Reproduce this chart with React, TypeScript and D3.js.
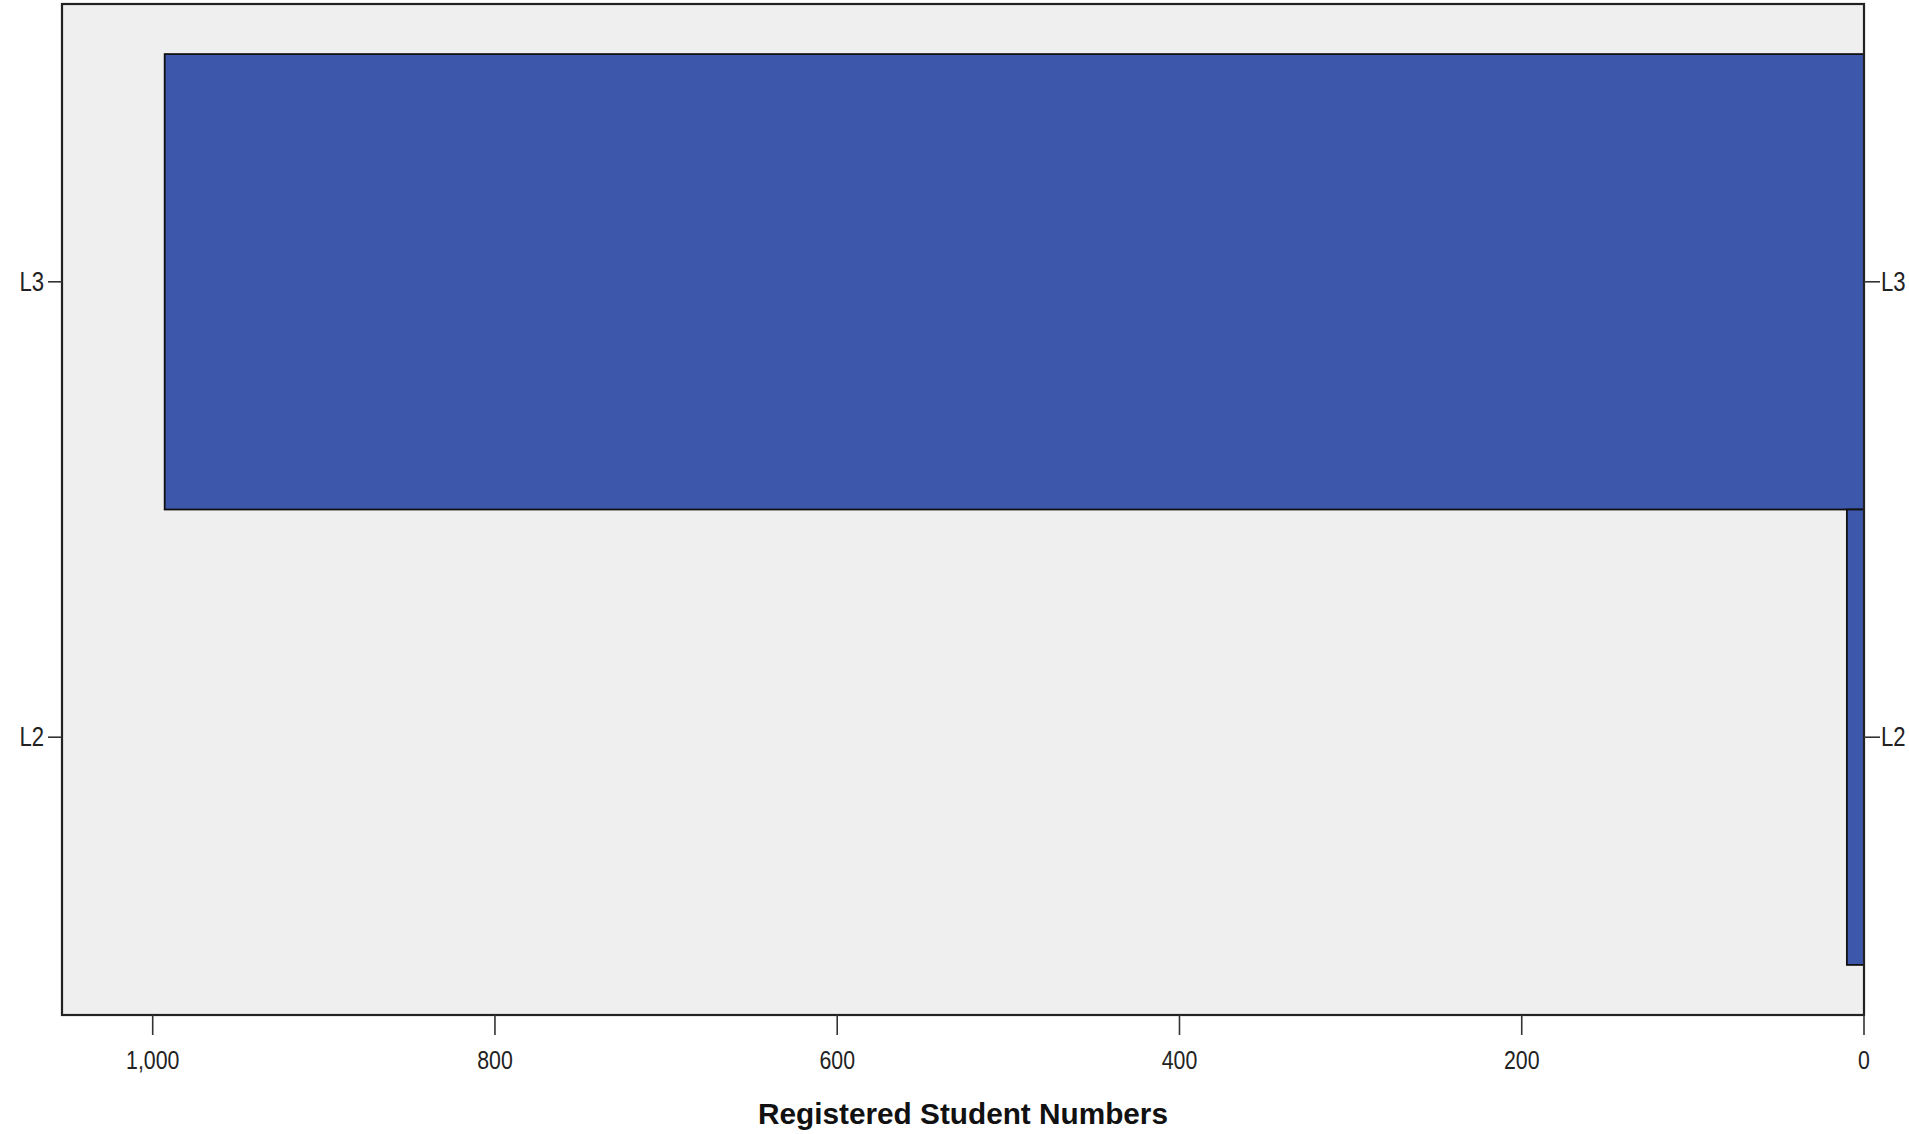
import React from "react";
import * as d3 from "d3";

const categories = ["L3", "L2"];
const values = [993, 10];
const xTicks = [1000, 800, 600, 400, 200, 0];
const xTitle = "Registered Student Numbers";

const W = 1909;
const H = 1134;
const plot = { left: 62, right: 1864, top: 4, bottom: 1015 };
const FONT = "'Liberation Sans', Arial, sans-serif";
const SX = 0.82;

function NarrowText(props: {
  x: number;
  y: number;
  anchor: "start" | "middle" | "end";
  size: number;
  bold?: boolean;
  children: React.ReactNode;
}) {
  return (
    <text
      transform={`translate(${props.x},${props.y}) scale(${SX},1)`}
      textAnchor={props.anchor}
      dominantBaseline="central"
      fontFamily={FONT}
      fontWeight={props.bold ? "bold" : "normal"}
      fontSize={props.size}
      fill="#222"
    >
      {props.children}
    </text>
  );
}

export default function App() {
  const x = d3.scaleLinear().domain([0, 1053]).range([plot.right, plot.left]);
  const y = d3
    .scaleBand<string>()
    .domain(categories)
    .range([plot.top, plot.bottom])
    .paddingInner(0)
    .paddingOuter(0.11);
  const fmt = d3.format(",");

  return (
    <svg
      width={W}
      height={H}
      style={{ position: "absolute", left: 0, top: 0, background: "#fff" }}
    >
      <rect
        x={plot.left}
        y={plot.top}
        width={plot.right - plot.left}
        height={plot.bottom - plot.top}
        fill="#EFEFEF"
      />
      {categories.map((c, i) => (
        <rect
          key={c}
          x={x(values[i])}
          y={y(c)!}
          width={x(0) - x(values[i])}
          height={y.bandwidth()}
          fill="#3D58AB"
          stroke="#111"
          strokeWidth={1.8}
        />
      ))}
      <rect
        x={plot.left}
        y={plot.top}
        width={plot.right - plot.left}
        height={plot.bottom - plot.top}
        fill="none"
        stroke="#222"
        strokeWidth={2.2}
      />
      {categories.map((c) => {
        const cy = y(c)! + y.bandwidth() / 2;
        return (
          <g key={"t" + c}>
            <line x1={plot.left - 14} x2={plot.left} y1={cy} y2={cy} stroke="#333" strokeWidth={1.6} />
            <NarrowText x={plot.left - 18} y={cy} anchor="end" size={27}>
              {c}
            </NarrowText>
            <line x1={plot.right} x2={plot.right + 16} y1={cy} y2={cy} stroke="#333" strokeWidth={1.6} />
            <NarrowText x={plot.right + 17} y={cy} anchor="start" size={27}>
              {c}
            </NarrowText>
          </g>
        );
      })}
      {xTicks.map((t) => (
        <g key={"x" + t}>
          <line x1={x(t)} x2={x(t)} y1={plot.bottom} y2={plot.bottom + 20} stroke="#333" strokeWidth={1.6} />
          <NarrowText x={x(t)} y={plot.bottom + 45} anchor="middle" size={26}>
            {fmt(t)}
          </NarrowText>
        </g>
      ))}
      <text
        x={(plot.left + plot.right) / 2}
        y={1124}
        textAnchor="middle"
        fontFamily={FONT}
        fontWeight="bold"
        fontSize={29}
        textLength={410}
        lengthAdjust="spacingAndGlyphs"
        fill="#111"
      >
        {xTitle}
      </text>
    </svg>
  );
}
